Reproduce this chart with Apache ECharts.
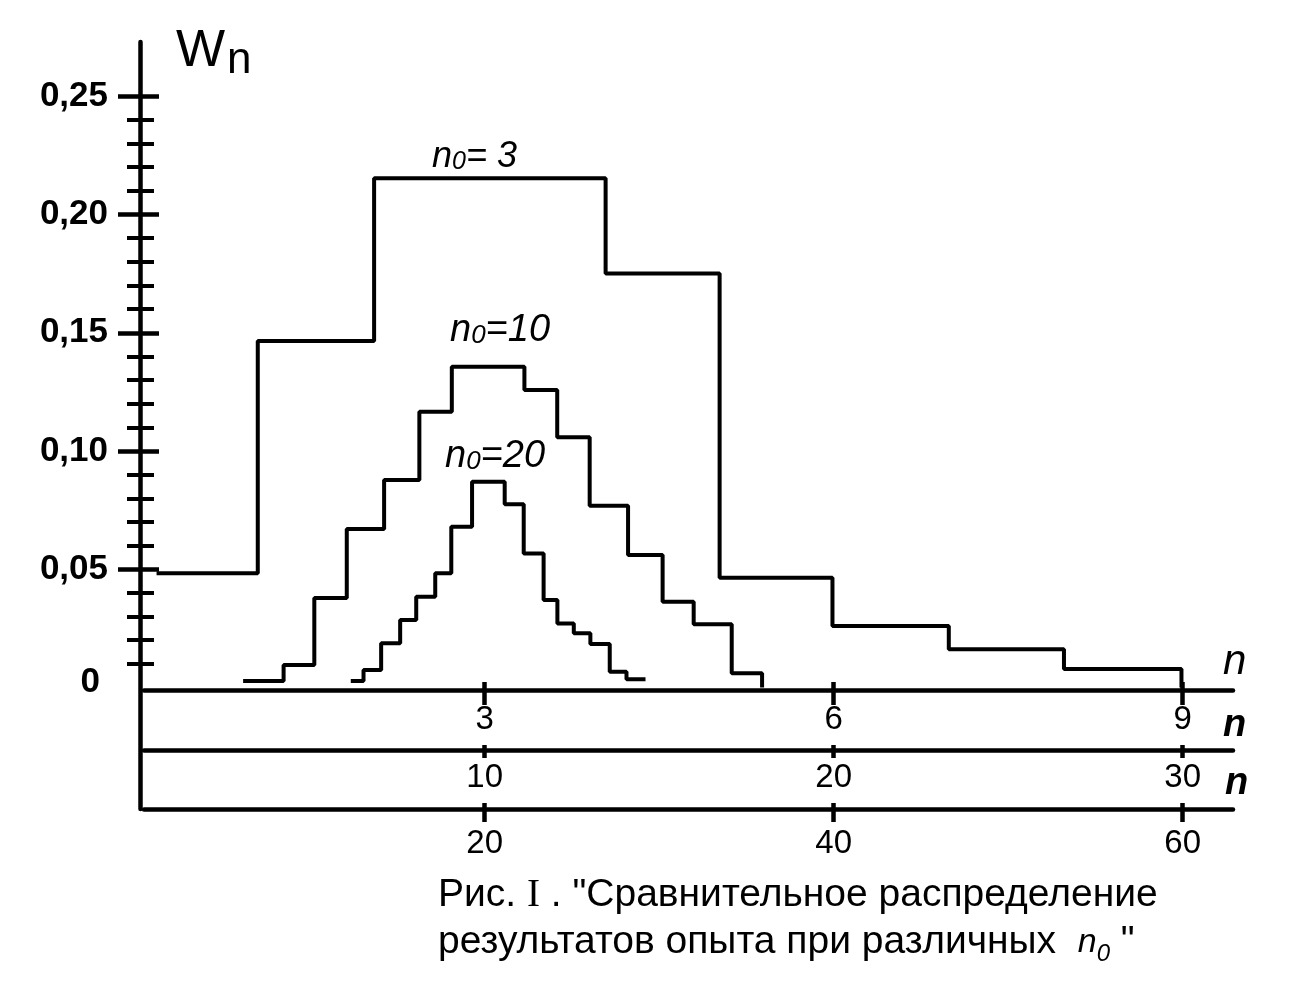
<!DOCTYPE html>
<html><head><meta charset="utf-8">
<script src="https://cdn.jsdelivr.net/npm/echarts@6/dist/echarts.min.js"></script>
<style>html,body{margin:0;padding:0;background:#fff}#c{width:1301px;height:999px}</style>
</head><body><div id="c"></div>
<script>
const FONT = '"Liberation Sans", Arial, sans-serif';

// ---- data ----
// n0 = 3 histogram (units of the top n-axis)
const n3Edges  = [0.18, 1.05, 2.05, 4.04, 5.02, 5.99, 6.99, 7.98, 8.99];
const n3Values = [0.0483, 0.1465, 0.2153, 0.1751, 0.0464, 0.0260, 0.0162, 0.0078];
const n3End = 0;
// n0 = 10 histogram (units of the middle n-axis)
const n10Edges  = [3.08, 4.24, 5.12, 6.05, 7.12, 8.13, 9.06, 11.14, 12.08, 13.01, 14.11, 15.10, 15.99, 17.08, 17.95];
const n10Values = [0.0027, 0.0095, 0.0378, 0.0670, 0.0877, 0.1166, 0.1356, 0.1258, 0.1058, 0.0769, 0.0560, 0.0363, 0.0267, 0.0060];
const n10End = 0;
// n0 = 20 histogram (units of the bottom n-axis)
const n20Edges  = [12.33, 13.06, 14.07, 15.16, 16.08, 17.17, 18.09, 19.28, 21.15, 22.24, 23.38, 24.17, 25.11, 26.06, 27.17, 28.13, 29.22];
const n20Values = [0.0027, 0.0074, 0.0187, 0.0285, 0.0384, 0.0483, 0.0680, 0.0870, 0.0775, 0.0567, 0.0370, 0.0271, 0.0229, 0.0184, 0.0067, 0.0035];
const n20End = 0.0035;

// tick labels
const yLabelValues = [0, 0.05, 0.10, 0.15, 0.20, 0.25];
const yMajorTicks  = [0.05, 0.10, 0.15, 0.20, 0.25];
const yMinorTicks  = [0.01,0.02,0.03,0.04, 0.06,0.07,0.08,0.09, 0.11,0.12,0.13,0.14, 0.16,0.17,0.18,0.19, 0.21,0.22,0.23,0.24];
const xTicks3  = [3, 6, 9];
const xTicks10 = [10, 20, 30];
const xTicks20 = [20, 40, 60];

// ---- helpers ----
function steps(edges, values, endValue) {
  const pts = values.map((v, i) => [edges[i], v]);
  pts.push([edges[edges.length - 1], endValue]);
  return pts;
}
const X3_MIN = 0.072, X3_MAX = 9.433;
const Y_MIN = -0.05137, Y_MAX = 0.27294;
const LW = 4.5;
const black = '#000';

function xAxisMain(scale, ticks, offset, below, margin) {
  return {
    type: 'value', position: 'bottom', offset: offset,
    min: X3_MIN * scale, max: X3_MAX * scale,
    axisLine: { show: true, onZero: false, lineStyle: { color: black, width: LW } },
    axisTick: { show: true, customValues: ticks, length: below, lineStyle: { color: black, width: LW } },
    axisLabel: { show: true, customValues: ticks, margin: margin, color: black, fontSize: 33, fontFamily: FONT },
    splitLine: { show: false }
  };
}
function xAxisInside(scale, ticks, offset, above) {
  return {
    type: 'value', position: 'bottom', offset: offset,
    min: X3_MIN * scale, max: X3_MAX * scale,
    axisLine: { show: false, onZero: false },
    axisTick: { show: true, inside: true, customValues: ticks, length: above, lineStyle: { color: black, width: LW } },
    axisLabel: { show: false },
    splitLine: { show: false }
  };
}
function yAxisPart(opts) {
  return Object.assign({
    type: 'value', position: 'left', offset: 4, min: Y_MIN, max: Y_MAX,
    axisLine: { show: false, onZero: false },
    axisLabel: { show: false },
    splitLine: { show: false }
  }, opts);
}

const subTxt = (size) => ({ fontSize: size, fontStyle: 'italic', fontWeight: 'normal', fontFamily: FONT, color: black, verticalAlign: 'bottom' });
const mainTxt = (size) => ({ fontSize: size, fontStyle: 'italic', fontWeight: 'normal', fontFamily: FONT, color: black });

const option = {
  animation: false,
  backgroundColor: '#fff',
  grid: { left: 144, right: 68, top: 42, bottom: 190, containLabel: false },
  xAxis: [
    xAxisMain(1, xTicks3, -119, 15, 13),
    xAxisMain(10/3, xTicks10, -59, 8, 11),
    xAxisMain(20/3, xTicks20, 0, 13, 18),
    xAxisInside(1, xTicks3, -119, 8),
    xAxisInside(10/3, xTicks10, -59, 5),
    xAxisInside(20/3, xTicks20, 0, 6)
  ],
  yAxis: [
    yAxisPart({
      axisLine: { show: true, onZero: false, lineStyle: { color: black, width: LW } },
      axisTick: { show: true, customValues: yMajorTicks, length: 22, lineStyle: { color: black, width: LW } },
      axisLabel: {
        show: true, customValues: yLabelValues, margin: 32,
        color: black, fontSize: 35, fontWeight: 'bold', fontFamily: FONT,
        formatter: v => v === 0 ? '{z|0}' : v.toFixed(2).replace('.', ','),
        rich: { z: { fontSize: 35, fontWeight: 'bold', fontFamily: FONT, color: black, padding: [0, 8, 10, 0] } }
      }
    }),
    yAxisPart({ axisTick: { show: true, inside: true, customValues: yMajorTicks, length: 19, lineStyle: { color: black, width: LW } } }),
    yAxisPart({ axisTick: { show: true, customValues: yMinorTicks, length: 13, lineStyle: { color: black, width: 4 } } }),
    yAxisPart({ axisTick: { show: true, inside: true, customValues: yMinorTicks, length: 14, lineStyle: { color: black, width: 4 } } })
  ],
  title: [
    { text: 'W', left: 176, top: 26, padding: 0, textStyle: { fontSize: 52, fontWeight: 'normal', fontFamily: FONT, color: black } },
    { text: 'n', left: 227, top: 39, padding: 0, textStyle: { fontSize: 44, fontWeight: 'normal', fontFamily: FONT, color: black } },
    { text: '{m|n}{s|0}{m|= 3}', left: 432, top: 139, padding: 0,
      textStyle: { fontWeight: 'normal', rich: { m: mainTxt(36), s: subTxt(25) } } },
    { text: '{m|n}{s|0}{m|=10}', left: 450, top: 311, padding: 0,
      textStyle: { fontWeight: 'normal', rich: { m: mainTxt(38), s: subTxt(26) } } },
    { text: '{m|n}{s|0}{m|=20}', left: 445, top: 437, padding: 0,
      textStyle: { fontWeight: 'normal', rich: { m: mainTxt(38), s: subTxt(26) } } },
    { text: 'n', left: 1223, top: 641, padding: 0, textStyle: { fontSize: 42, fontStyle: 'italic', fontWeight: 'normal', fontFamily: FONT, color: black } },
    { text: 'n', left: 1223, top: 707, padding: 0, textStyle: { fontSize: 38, fontStyle: 'italic', fontWeight: 'bold', fontFamily: FONT, color: black } },
    { text: 'n', left: 1225, top: 765, padding: 0, textStyle: { fontSize: 38, fontStyle: 'italic', fontWeight: 'bold', fontFamily: FONT, color: black } },
    { text: 'Рис. {r|I} . "Сравнительное распределение\nрезультатов опыта при различных  {m|n}{s|0} "',
      left: 438, top: 872, padding: 0,
      textStyle: { fontSize: 39, lineHeight: 47, fontWeight: 'normal', fontFamily: FONT, color: black,
        rich: {
          r: { fontSize: 39, lineHeight: 47, fontWeight: 'normal', fontFamily: '"Liberation Serif", "DejaVu Serif", serif', color: black },
          m: { fontSize: 34, lineHeight: 47, fontStyle: 'italic', fontWeight: 'normal', fontFamily: FONT, color: black },
          s: { fontSize: 24, lineHeight: 40, fontStyle: 'italic', fontWeight: 'normal', fontFamily: FONT, color: black, verticalAlign: 'bottom' }
        } } }
  ],
  series: [
    { type: 'line', step: 'end', xAxisIndex: 0, yAxisIndex: 0, data: steps(n3Edges, n3Values, n3End),
      showSymbol: false, symbol: 'none', lineStyle: { color: black, width: 4 } },
    { type: 'line', step: 'end', xAxisIndex: 1, yAxisIndex: 0, data: steps(n10Edges, n10Values, n10End),
      showSymbol: false, symbol: 'none', lineStyle: { color: black, width: 4 } },
    { type: 'line', step: 'end', xAxisIndex: 2, yAxisIndex: 0, data: steps(n20Edges, n20Values, n20End),
      showSymbol: false, symbol: 'none', lineStyle: { color: black, width: 4 } }
  ]
};
const chart = echarts.init(document.getElementById('c'), null, { renderer: 'canvas' });
chart.setOption(option);
</script></body></html>
